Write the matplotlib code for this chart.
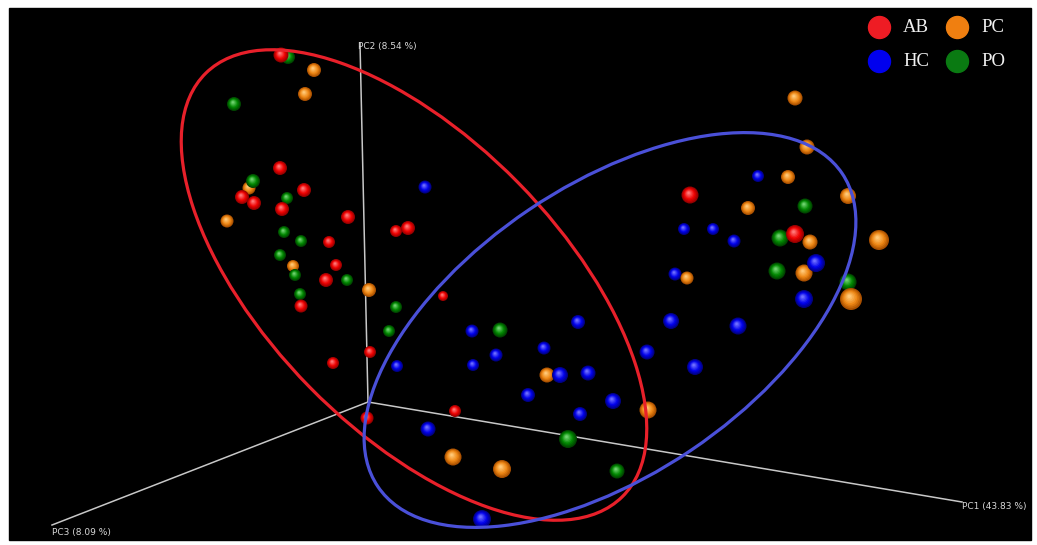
import matplotlib.pyplot as plt
from matplotlib.patches import Ellipse, Rectangle
import numpy as np

# projected PCoA coordinates (screen units) and sphere diameter (depth cue)
ab_x = [281, 280, 304, 242, 254, 282, 348, 396, 408, 329, 336, 326, 301, 443, 370, 333, 367, 455, 690, 795]
ab_y = [55, 168, 190, 197, 203, 209, 217, 231, 228, 242, 265, 280, 306, 296, 352, 363, 418, 411, 195, 234]
ab_d = [15, 14, 14, 14, 14, 14, 14, 12, 14, 12, 12, 14, 13, 10, 12, 12, 13, 12, 17, 18]

hc_x = [425, 758, 684, 713, 734, 675, 816, 804, 671, 738, 578, 472, 544, 496, 473, 397, 647, 695, 560, 588, 528, 613, 580, 428, 482]
hc_y = [187, 176, 229, 229, 241, 274, 263, 299, 321, 326, 322, 331, 348, 355, 365, 366, 352, 367, 375, 373, 395, 401, 414, 429, 519]
hc_d = [13, 12, 12, 12, 13, 13, 18, 18, 16, 17, 14, 13, 13, 13, 12, 12, 15, 16, 16, 15, 14, 16, 14, 15, 18]

pc_x = [314, 305, 249, 227, 293, 369, 795, 807, 788, 748, 848, 810, 879, 804, 687, 851, 547, 648, 453, 502]
pc_y = [70, 94, 188, 221, 266, 290, 98, 147, 177, 208, 196, 242, 240, 273, 278, 299, 375, 410, 457, 469]
pc_d = [14, 14, 13, 13, 12, 14, 15, 15, 14, 14, 16, 15, 20, 17, 13, 22, 15, 17, 17, 18]

po_x = [288, 234, 253, 287, 284, 301, 280, 295, 347, 300, 396, 389, 500, 568, 617, 805, 780, 777, 848]
po_y = [57, 104, 181, 198, 232, 241, 255, 275, 280, 294, 307, 331, 330, 439, 471, 206, 238, 271, 282]
po_d = [14, 14, 14, 12, 12, 12, 12, 12, 12, 12, 12, 12, 15, 18, 15, 15, 17, 17, 17]

groups = ['AB', 'HC', 'PC', 'PO']
axis_labels = ['PC1 (43.83 %)', 'PC2 (8.54 %)', 'PC3 (8.09 %)']

# edge / body / highlight shades for each group
shades = {
    'AB': ((150, 0, 0), (240, 0, 0), (255, 120, 120)),
    'HC': ((0, 0, 130), (0, 0, 235), (110, 110, 255)),
    'PC': ((170, 80, 0), (238, 135, 20), (255, 200, 120)),
    'PO': ((0, 70, 0), (0, 135, 0), (110, 210, 110)),
}
legend_colors = {'AB': '#ee1c24', 'HC': '#0000ee', 'PC': '#f07f10', 'PO': '#0a7a12'}

fig = plt.figure(figsize=(10.37, 5.45), dpi=100)
fig.patch.set_facecolor('white')
ax = fig.add_axes([0, 0, 1, 1])
ax.set_xlim(0, 1037)
ax.set_ylim(545, 0)
ax.axis('off')
ax.add_patch(Rectangle((9, 8), 1022, 532, color='black', zorder=0))

# axes of the 3D frame
origin = (368, 402)
ends = [(962, 502), (360, 43), (52, 525)]
for (ex, ey) in ends:
    ax.plot([origin[0], ex], [origin[1], ey], color='#c8c8c8', lw=1.1, zorder=1)
ax.text(962, 507, axis_labels[0], color='#d8d8d8', fontsize=6.5, va='center', ha='left')
ax.text(358, 46, axis_labels[1], color='#d8d8d8', fontsize=6.5, va='center', ha='left')
ax.text(52, 532, axis_labels[2], color='#d8d8d8', fontsize=6.5, va='center', ha='left')

# collect spheres and draw far (small) ones first
pts = []
for g, xs, ys, ds in [('AB', ab_x, ab_y, ab_d), ('HC', hc_x, hc_y, hc_d),
                      ('PC', pc_x, pc_y, pc_d), ('PO', po_x, po_y, po_d)]:
    for x, y, d in zip(xs, ys, ds):
        pts.append((d, x, y, g))
pts.sort(key=lambda p: p[0])


def mix(c1, c2, t):
    return tuple((a + (b - a) * t) / 255 for a, b in zip(c1, c2))


z = 2
n = 8
for d, x, y, g in pts:
    edge, body, light = shades[g]
    for k in range(n):
        t = k / (n - 1)
        frac = 1 - 0.85 * t
        if t < 0.4:
            c = mix(edge, body, t / 0.4)
        else:
            c = mix(body, light, (t - 0.4) / 0.6)
        dd = d * frac
        ax.scatter([x - 0.08 * d * t], [y - 0.12 * d * t], s=(dd * 0.72) ** 2,
                   color=c, edgecolors='none', zorder=z)
        z += 0.001

# group ellipses
ax.add_patch(Ellipse((414, 285), 2 * 297, 2 * 146, angle=45.5, fill=False,
                     edgecolor='#e8202a', lw=2.3, zorder=50))
ax.add_patch(Ellipse((610, 330), 2 * 280, 2 * 145, angle=-34, fill=False,
                     edgecolor='#4a50d8', lw=2.3, zorder=51))

# legend
leg_pos = {'AB': (879, 27), 'HC': (879, 61), 'PC': (957, 27), 'PO': (957, 61)}
for g in groups:
    lx, ly = leg_pos[g]
    ax.scatter([lx], [ly], s=(22 * 0.72) ** 2, color=legend_colors[g], zorder=60)
    ax.text(lx + 24, ly + 1, g, color='#f0f0f0', fontsize=13.5,
            family='Liberation Serif', va='center', ha='left', zorder=60)

fig.savefig('out.png', dpi=100, facecolor='white')
